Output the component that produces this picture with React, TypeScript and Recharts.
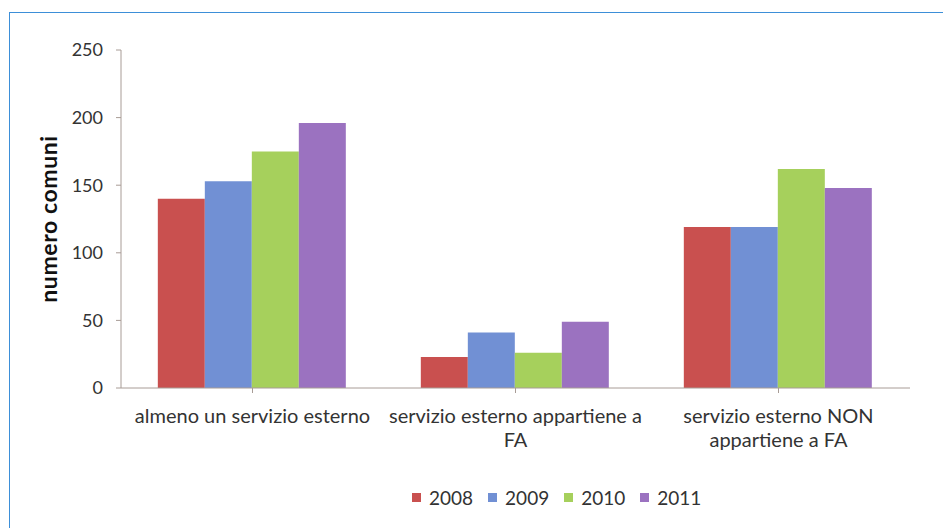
// Grafico a barre: comuni con servizi esterni, 2008-2011
import React from 'react';
import { BarChart, Bar, XAxis, YAxis, Label } from 'recharts';

const categories = [
  'almeno un servizio esterno',
  'servizio esterno appartiene a FA',
  'servizio esterno NON appartiene a FA',
];
// righe delle etichette come vanno a capo nel grafico originale
const categoryLines = [
  ['almeno un servizio esterno'],
  ['servizio esterno appartiene a', 'FA'],
  ['servizio esterno NON', 'appartiene a FA'],
];
const years = ['2008', '2009', '2010', '2011'];
const v2008 = [140, 23, 119];
const v2009 = [153, 41, 119];
const v2010 = [175, 26, 162];
const v2011 = [196, 49, 148];
const yTicks = [0, 50, 100, 150, 200, 250];

const colors = ['#c9504f', '#7190d4', '#a6d05c', '#9b72c0'];
const font = 'Lato, "Open Sans", sans-serif';
const axisColor = '#a89c96';

const data = categories.map((name, i) => ({
  name,
  '2008': v2008[i],
  '2009': v2009[i],
  '2010': v2010[i],
  '2011': v2011[i],
}));

const CategoryTick = (props: any) => {
  const { x, y, payload } = props;
  const idx = categories.indexOf(payload.value);
  const lines = categoryLines[idx] || [payload.value];
  return (
    <g>
      {lines.map((line, k) => (
        <text
          key={k}
          x={x}
          y={y + 28 + k * 24}
          textAnchor="middle"
          fill="#333"
          fontSize={20}
          fontFamily={font}
        >
          {line}
        </text>
      ))}
    </g>
  );
};

const LegendBox = () => (
  <div
    style={{
      position: 'absolute',
      left: 412,
      top: 486,
      display: 'flex',
      fontFamily: font,
      fontSize: 19,
      color: '#333',
    }}
  >
    {years.map((yr, i) => (
      <span key={yr} style={{ display: 'inline-flex', alignItems: 'center', marginRight: 15 }}>
        <span style={{ width: 9, height: 9, background: colors[i], marginRight: 8, display: 'inline-block' }} />
        {yr}
      </span>
    ))}
  </div>
);

export default function App() {
  return (
    <div style={{ position: 'absolute', left: 0, top: 0, width: 943, height: 528, background: '#fff', overflow: 'hidden' }}>
      <div
        style={{
          position: 'absolute',
          left: 9,
          top: 12,
          width: 943,
          height: 528,
          borderTop: '1.5px solid #3d8fd8',
          borderLeft: '1.5px solid #3d8fd8',
        }}
      />
      <BarChart
        width={943}
        height={528}
        data={data}
        margin={{ top: 50, right: 33, bottom: 110, left: 0 }}
        barCategoryGap="14%"
        barGap={0}
        style={{ position: 'absolute', left: 0, top: 0 }}
      >
        <XAxis
          dataKey="name"
          stroke={axisColor}
          tickLine={{ stroke: axisColor }}
          tickSize={5}
          interval={0}
          tick={<CategoryTick />}
        />
        <YAxis
          width={121}
          domain={[0, 250]}
          ticks={yTicks}
          stroke={axisColor}
          tickSize={5}
          tickMargin={13}
          tick={{ fill: '#333', fontSize: 18, fontFamily: font }}
        >
          <Label
            content={({ viewBox }: any) => (
              <text
                transform={`translate(57, ${viewBox.y + viewBox.height / 2}) rotate(-90)`}
                textAnchor="middle"
                fontFamily={font}
                fontWeight="bold"
                fontSize={23}
                letterSpacing={0.6}
                fill="#111"
              >
                numero comuni
              </text>
            )}
          />
        </YAxis>
        {years.map((yr, i) => (
          <Bar key={yr} dataKey={yr} fill={colors[i]} isAnimationActive={false} />
        ))}
      </BarChart>
      <LegendBox />
    </div>
  );
}
